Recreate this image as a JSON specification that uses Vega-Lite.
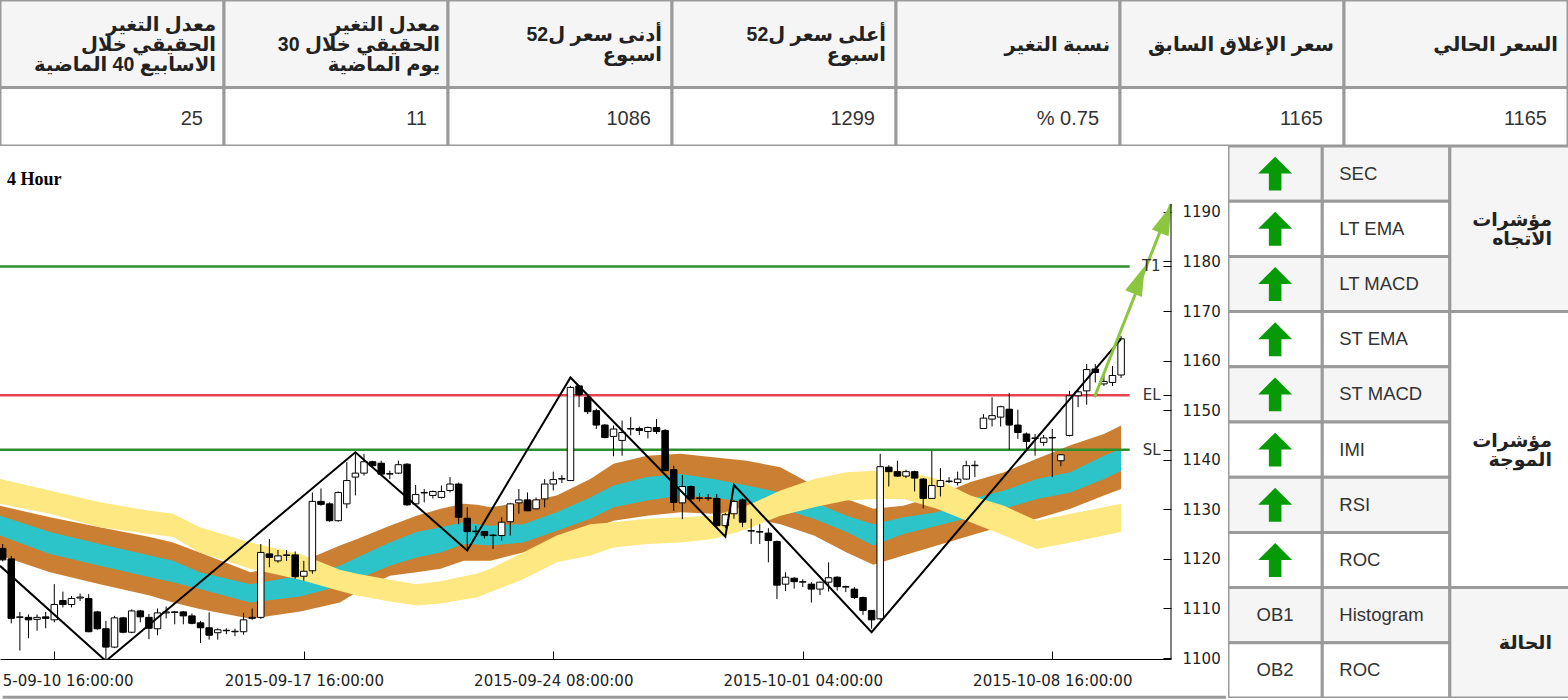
{
  "$schema": "https://vega.github.io/schema/vega-lite/v6.json",
  "padding": 0,
  "background": "white",
  "spacing": 0,
  "config": {"view": {"stroke": null}, "axis": {"grid": false}, "scale": {"continuousPadding": 0}},
  "datasets": {
    "top": [
      {"col": 0, "head": ["معدل التغير", "الحقيقي خلال", "الاسابيع 40 الماضية"], "val": "25"},
      {"col": 1, "head": ["معدل التغير", "الحقيقي خلال 30", "يوم الماضية"], "val": "11"},
      {"col": 2, "head": ["أدنى سعر ل52", "اسبوع"], "val": "1086"},
      {"col": 3, "head": ["أعلى سعر ل52", "اسبوع"], "val": "1299"},
      {"col": 4, "head": ["نسبة التغير"], "val": "% 0.75"},
      {"col": 5, "head": ["سعر الإغلاق السابق"], "val": "1165"},
      {"col": 6, "head": ["السعر الحالي"], "val": "1165"}
    ],
    "cndl": [
      {"i":0,"o":1122.1,"h":1123,"l":1119.5,"c":1119.8},
      {"i":1,"o":1120,"h":1120.6,"l":1107,"c":1108},
      {"i":2,"o":1108.2,"h":1109.3,"l":1101.5,"c":1108.3},
      {"i":3,"o":1108.2,"h":1108.8,"l":1104,"c":1107.7},
      {"i":4,"o":1107.8,"h":1108.8,"l":1105.5,"c":1108.2},
      {"i":5,"o":1108.3,"h":1109.3,"l":1106,"c":1108},
      {"i":6,"o":1107.7,"h":1114.9,"l":1107.2,"c":1110.8},
      {"i":7,"o":1111.6,"h":1113.4,"l":1110.2,"c":1110.8},
      {"i":8,"o":1110.8,"h":1112.5,"l":1110.2,"c":1112},
      {"i":9,"o":1112.1,"h":1113,"l":1111.5,"c":1112.3},
      {"i":10,"o":1112,"h":1112.9,"l":1105.2,"c":1105.3},
      {"i":11,"o":1109.3,"h":1109.5,"l":1105.7,"c":1105.9},
      {"i":12,"o":1105.9,"h":1107.5,"l":1099.5,"c":1102.2},
      {"i":13,"o":1102.2,"h":1108.5,"l":1102,"c":1108.1},
      {"i":14,"o":1108.1,"h":1108.3,"l":1105,"c":1105.2},
      {"i":15,"o":1105.2,"h":1109.8,"l":1105,"c":1109.5},
      {"i":16,"o":1109.5,"h":1109.7,"l":1107.2,"c":1108.3},
      {"i":17,"o":1108.2,"h":1108.9,"l":1103.8,"c":1106},
      {"i":18,"o":1105.9,"h":1110,"l":1104.6,"c":1109.1},
      {"i":19,"o":1109.1,"h":1110.4,"l":1108,"c":1109.3},
      {"i":20,"o":1109.3,"h":1109.5,"l":1106.8,"c":1109.2},
      {"i":21,"o":1109.3,"h":1109.5,"l":1106.8,"c":1108.5},
      {"i":22,"o":1108.5,"h":1109,"l":1106.8,"c":1107},
      {"i":23,"o":1107.1,"h":1107.5,"l":1103,"c":1106.1},
      {"i":24,"o":1106.1,"h":1109.2,"l":1103.7,"c":1104.6},
      {"i":25,"o":1105.1,"h":1106,"l":1103.7,"c":1105.7},
      {"i":26,"o":1105.5,"h":1106,"l":1104.8,"c":1105.6},
      {"i":27,"o":1105.3,"h":1105.9,"l":1104.4,"c":1105.4},
      {"i":28,"o":1105.3,"h":1109.1,"l":1104.7,"c":1107.7},
      {"i":29,"o":1108,"h":1110,"l":1107.7,"c":1108.2},
      {"i":30,"o":1108.2,"h":1123,"l":1107.9,"c":1121.3},
      {"i":31,"o":1121,"h":1124,"l":1118.3,"c":1120.3},
      {"i":32,"o":1119.6,"h":1121.8,"l":1119.2,"c":1120.6},
      {"i":33,"o":1120.7,"h":1121.8,"l":1119.6,"c":1120.8},
      {"i":34,"o":1120.8,"h":1121.5,"l":1116,"c":1116.4},
      {"i":35,"o":1116.5,"h":1119.6,"l":1115.6,"c":1117.5},
      {"i":36,"o":1117.6,"h":1133.4,"l":1117,"c":1131.6},
      {"i":37,"o":1131.6,"h":1134.2,"l":1130.7,"c":1131},
      {"i":38,"o":1131.1,"h":1131.4,"l":1127.5,"c":1127.7},
      {"i":39,"o":1127.7,"h":1133.6,"l":1127.5,"c":1133.4},
      {"i":40,"o":1131.1,"h":1139.5,"l":1130.2,"c":1135.8},
      {"i":41,"o":1136.5,"h":1141.2,"l":1132.8,"c":1137.3},
      {"i":42,"o":1137.3,"h":1141.2,"l":1136.8,"c":1139.6},
      {"i":43,"o":1139.6,"h":1139.8,"l":1138.5,"c":1138.8},
      {"i":44,"o":1139.3,"h":1139.8,"l":1136.9,"c":1137.1},
      {"i":45,"o":1137.1,"h":1137.8,"l":1136.1,"c":1137.2},
      {"i":46,"o":1137.3,"h":1139.8,"l":1137.1,"c":1139},
      {"i":47,"o":1139.1,"h":1139.3,"l":1130.7,"c":1130.9},
      {"i":48,"o":1131.1,"h":1134.9,"l":1130.7,"c":1133},
      {"i":49,"o":1133.3,"h":1134.1,"l":1131.4,"c":1133.4},
      {"i":50,"o":1132.8,"h":1133.8,"l":1132.2,"c":1133.6},
      {"i":51,"o":1132.4,"h":1134.8,"l":1132.2,"c":1133.6},
      {"i":52,"o":1133.8,"h":1136.5,"l":1133.4,"c":1135.1},
      {"i":53,"o":1135.1,"h":1135.4,"l":1127,"c":1128.4},
      {"i":54,"o":1128.2,"h":1130.4,"l":1122,"c":1125.5},
      {"i":55,"o":1125.5,"h":1126.7,"l":1124.7,"c":1125.6},
      {"i":56,"o":1125.5,"h":1125.6,"l":1124.1,"c":1124.7},
      {"i":57,"o":1124.7,"h":1125,"l":1122,"c":1124.8},
      {"i":58,"o":1124.7,"h":1128.4,"l":1123.7,"c":1127.4},
      {"i":59,"o":1127.5,"h":1131.3,"l":1124.7,"c":1131.1},
      {"i":60,"o":1131.3,"h":1134.1,"l":1129.1,"c":1131.9},
      {"i":61,"o":1131.9,"h":1133.4,"l":1129.7,"c":1129.7},
      {"i":62,"o":1130.1,"h":1132.4,"l":1130,"c":1131.9},
      {"i":63,"o":1132.1,"h":1136.1,"l":1130.4,"c":1135.1},
      {"i":64,"o":1135.1,"h":1137.6,"l":1133.8,"c":1136},
      {"i":65,"o":1136.1,"h":1136.9,"l":1135.3,"c":1136.2},
      {"i":66,"o":1135.8,"h":1154.9,"l":1135.8,"c":1154.6},
      {"i":67,"o":1154.9,"h":1155,"l":1150.6,"c":1153.1},
      {"i":68,"o":1152.6,"h":1152.9,"l":1149.2,"c":1149.7},
      {"i":69,"o":1149.9,"h":1150.3,"l":1146.2,"c":1147},
      {"i":70,"o":1147,"h":1147.2,"l":1144.3,"c":1144.5},
      {"i":71,"o":1144.7,"h":1146.9,"l":1140.7,"c":1146.2},
      {"i":72,"o":1143.9,"h":1147.9,"l":1140.8,"c":1145.5},
      {"i":73,"o":1146.2,"h":1148.6,"l":1144.9,"c":1146.3},
      {"i":74,"o":1146.3,"h":1146.7,"l":1145,"c":1145.9},
      {"i":75,"o":1145.7,"h":1146.7,"l":1144.3,"c":1146.5},
      {"i":76,"o":1146.5,"h":1148.2,"l":1145.2,"c":1145.7},
      {"i":77,"o":1145.9,"h":1146.2,"l":1137.8,"c":1137.8},
      {"i":78,"o":1138,"h":1138.8,"l":1129.7,"c":1131.4},
      {"i":79,"o":1131.3,"h":1136.9,"l":1128,"c":1134.6},
      {"i":80,"o":1134.6,"h":1134.8,"l":1131.6,"c":1132.1},
      {"i":81,"o":1132.2,"h":1133.3,"l":1131.6,"c":1132.3},
      {"i":82,"o":1132.2,"h":1133.1,"l":1131.7,"c":1132.3},
      {"i":83,"o":1132.2,"h":1133.1,"l":1126.4,"c":1126.7},
      {"i":84,"o":1126.7,"h":1129.3,"l":1126.2,"c":1128.9},
      {"i":85,"o":1129.1,"h":1131.9,"l":1128.1,"c":1131.6},
      {"i":86,"o":1131.9,"h":1132.2,"l":1126.4,"c":1127.4},
      {"i":87,"o":1125.6,"h":1128.1,"l":1123,"c":1125.7},
      {"i":88,"o":1125.4,"h":1127,"l":1123,"c":1125.5},
      {"i":89,"o":1125.2,"h":1126.2,"l":1119.3,"c":1123.7},
      {"i":90,"o":1123.5,"h":1123.7,"l":1111.9,"c":1114.7},
      {"i":91,"o":1114.9,"h":1117.3,"l":1113.5,"c":1116.3},
      {"i":92,"o":1116.1,"h":1116.3,"l":1114,"c":1115.4},
      {"i":93,"o":1115.3,"h":1115.9,"l":1114.3,"c":1115.4},
      {"i":94,"o":1114.9,"h":1115.3,"l":1111.2,"c":1113.9},
      {"i":95,"o":1113.9,"h":1115.4,"l":1112.7,"c":1115.3},
      {"i":96,"o":1115.3,"h":1119.3,"l":1113.4,"c":1116.2},
      {"i":97,"o":1116.3,"h":1116.5,"l":1113.6,"c":1114.4},
      {"i":98,"o":1114.3,"h":1114.6,"l":1113.3,"c":1114.4},
      {"i":99,"o":1113.9,"h":1114.3,"l":1111.9,"c":1112.2},
      {"i":100,"o":1112.2,"h":1112.4,"l":1108.7,"c":1109.6},
      {"i":101,"o":1109.6,"h":1109.6,"l":1105.9,"c":1107.7},
      {"i":102,"o":1107.9,"h":1141.2,"l":1107.7,"c":1138.6},
      {"i":103,"o":1138.5,"h":1138.9,"l":1134.6,"c":1137.6},
      {"i":104,"o":1137.6,"h":1139.8,"l":1136.5,"c":1136.7},
      {"i":105,"o":1136.7,"h":1138,"l":1136.3,"c":1137.6},
      {"i":106,"o":1137.6,"h":1137.8,"l":1133.6,"c":1136.3},
      {"i":107,"o":1136.1,"h":1136.3,"l":1130.2,"c":1132.2},
      {"i":108,"o":1132.2,"h":1141.8,"l":1132.2,"c":1134.8},
      {"i":109,"o":1134.6,"h":1138.3,"l":1132.6,"c":1135.8},
      {"i":110,"o":1135.6,"h":1136.5,"l":1135.3,"c":1135.7},
      {"i":111,"o":1135.4,"h":1137.6,"l":1134.8,"c":1136.1},
      {"i":112,"o":1136.1,"h":1139.8,"l":1136,"c":1138.8},
      {"i":113,"o":1138.8,"h":1139.8,"l":1136.5,"c":1138.9},
      {"i":114,"o":1146.3,"h":1149.2,"l":1146.2,"c":1148.4},
      {"i":115,"o":1148.2,"h":1152.6,"l":1146.7,"c":1148.9},
      {"i":116,"o":1148.6,"h":1150.9,"l":1146.7,"c":1150.7},
      {"i":117,"o":1150.2,"h":1153.5,"l":1142,"c":1147},
      {"i":118,"o":1147,"h":1150.1,"l":1144.2,"c":1145.5},
      {"i":119,"o":1145.2,"h":1145.5,"l":1142.2,"c":1143.7},
      {"i":120,"o":1144.3,"h":1145.2,"l":1140.8,"c":1144.4},
      {"i":121,"o":1143.5,"h":1145,"l":1142.8,"c":1144.4},
      {"i":122,"o":1144.4,"h":1146.2,"l":1136.5,"c":1144.5},
      {"i":123,"o":1139.8,"h":1141.1,"l":1138.7,"c":1141},
      {"i":124,"o":1144.9,"h":1153.9,"l":1144.7,"c":1152.9},
      {"i":125,"o":1152.9,"h":1154.3,"l":1150.6,"c":1153.7},
      {"i":126,"o":1153.9,"h":1159.3,"l":1151.1,"c":1158.2},
      {"i":127,"o":1158.3,"h":1159.3,"l":1155.6,"c":1157.6},
      {"i":128,"o":1155.3,"h":1157.6,"l":1154.9,"c":1155.8},
      {"i":129,"o":1155.6,"h":1158.9,"l":1154.9,"c":1157},
      {"i":130,"o":1157.1,"h":1165,"l":1156.5,"c":1164.4}
    ],
    "band": [
      {"i":-0.31,"yt":1136.1,"yb":1131.1,"ot":1130.7,"ct":1128.7,"cb":1124.7,"ob":1120.7},
      {"i":5.5,"yt":1133.8,"yb":1129.1,"ot":1128.4,"ct":1125.4,"cb":1121.0,"ob":1117.3},
      {"i":11.3,"yt":1131.4,"yb":1126.4,"ot":1126.4,"ct":1123.0,"cb":1118.6,"ob":1114.9},
      {"i":17.1,"yt":1129.7,"yb":1125.0,"ot":1124.4,"ct":1120.7,"cb":1116.3,"ob":1112.6},
      {"i":19.8,"yt":1129.1,"yb":1124.4,"ot":1123.3,"ct":1119.6,"cb":1115.3,"ob":1111.2},
      {"i":22.9,"yt":1126.4,"yb":1121.3,"ot":1121.3,"ct":1117.3,"cb":1113.9,"ob":1109.9},
      {"i":28.8,"yt":1123.3,"yb":1118.0,"ot":1117.3,"ct":1114.9,"cb":1111.2,"ob":1107.9},
      {"i":34.6,"yt":1121.0,"yb":1115.8,"ot":1119.3,"ct":1116.6,"cb":1112.4,"ob":1109.4},
      {"i":39.2,"yt":1117.8,"yb":1113.5,"ot":1122.7,"ct":1118.6,"cb":1114.6,"ob":1111.2},
      {"i":41.2,"yt":1117.0,"yb":1112.6,"ot":1124.0,"ct":1120.3,"cb":1115.9,"ob":1113.3},
      {"i":45.0,"yt":1115.8,"yb":1111.4,"ot":1126.7,"ct":1123.3,"cb":1118.6,"ob":1116.6},
      {"i":48.1,"yt":1114.9,"yb":1110.6,"ot":1128.7,"ct":1125.4,"cb":1120.3,"ob":1117.3},
      {"i":50.9,"yt":1115.5,"yb":1111.0,"ot":1130.1,"ct":1126.4,"cb":1121.3,"ob":1118.0},
      {"i":53.6,"yt":1116.5,"yb":1111.8,"ot":1131.1,"ct":1127.4,"cb":1123.0,"ob":1119.6},
      {"i":55.1,"yt":1117.0,"yb":1112.2,"ot":1130.9,"ct":1127.0,"cb":1122.9,"ob":1119.6},
      {"i":56.7,"yt":1118.0,"yb":1113.3,"ot":1130.4,"ct":1126.7,"cb":1122.7,"ob":1119.6},
      {"i":60.5,"yt":1121.3,"yb":1115.9,"ot":1131.4,"ct":1127.0,"cb":1123.3,"ob":1121.3},
      {"i":64.4,"yt":1124.7,"yb":1119.3,"ot":1132.8,"ct":1129.4,"cb":1125.7,"ob":1123.3},
      {"i":68.3,"yt":1127.0,"yb":1120.7,"ot":1136.1,"ct":1132.4,"cb":1128.1,"ob":1126.0},
      {"i":71.0,"yt":1127.4,"yb":1122.3,"ot":1139.2,"ct":1134.8,"cb":1130.4,"ob":1127.7},
      {"i":74.9,"yt":1128.1,"yb":1123.0,"ot":1140.8,"ct":1136.5,"cb":1131.8,"ob":1128.7},
      {"i":78.8,"yt":1128.4,"yb":1123.3,"ot":1141.2,"ct":1137.1,"cb":1132.8,"ob":1129.4},
      {"i":82.6,"yt":1128.7,"yb":1124.0,"ot":1140.5,"ct":1136.1,"cb":1132.4,"ob":1129.1},
      {"i":86.5,"yt":1130.7,"yb":1126.0,"ot":1139.8,"ct":1134.8,"cb":1131.4,"ob":1128.4},
      {"i":90.4,"yt":1133.8,"yb":1128.7,"ot":1138.5,"ct":1133.4,"cb":1130.1,"ob":1127.0},
      {"i":94.3,"yt":1136.1,"yb":1130.4,"ot":1134.8,"ct":1131.4,"cb":1128.1,"ob":1124.7},
      {"i":98.1,"yt":1137.5,"yb":1131.8,"ot":1132.1,"ct":1128.7,"cb":1125.4,"ob":1121.3},
      {"i":101.2,"yt":1137.8,"yb":1132.1,"ot":1130.1,"ct":1127.0,"cb":1122.7,"ob":1118.8},
      {"i":104.7,"yt":1137.8,"yb":1132.1,"ot":1130.7,"ct":1128.4,"cb":1125.0,"ob":1120.7},
      {"i":108.6,"yt":1136.1,"yb":1130.1,"ot":1132.8,"ct":1129.4,"cb":1126.7,"ob":1122.7},
      {"i":112.5,"yt":1132.8,"yb":1127.4,"ot":1135.5,"ct":1132.1,"cb":1128.4,"ob":1124.7},
      {"i":116.4,"yt":1130.7,"yb":1124.7,"ot":1137.5,"ct":1133.8,"cb":1130.1,"ob":1126.7},
      {"i":120.2,"yt":1127.7,"yb":1122.0,"ot":1140.2,"ct":1136.1,"cb":1132.1,"ob":1128.1},
      {"i":124.1,"yt":1129.1,"yb":1123.3,"ot":1142.9,"ct":1137.5,"cb":1133.4,"ob":1130.1},
      {"i":128.0,"yt":1130.4,"yb":1124.7,"ot":1145.2,"ct":1140.8,"cb":1136.1,"ob":1132.8},
      {"i":130.0,"yt":1131.1,"yb":1125.4,"ot":1146.9,"ct":1142.2,"cb":1137.8,"ob":1134.1}
    ],
    "zz": [
      {"i":-0.31,"v":1118.6},{"i":12,"v":1099.4},{"i":41,"v":1141.5},{"i":54,"v":1121.7},
      {"i":66,"v":1156.6},{"i":84,"v":1124.5},{"i":85,"v":1134.9},{"i":101,"v":1105.2},{"i":130,"v":1164.4}
    ],
    "lvl": [{"name":"T1","v":1179},{"name":"EL","v":1153},{"name":"SL","v":1142}],
    "arw": [{"i":126.9,"v":1152.6},{"i":135.8,"v":1191.6}],
    "heads": [{"i":132.1,"v":1176.3},{"i":135.2,"v":1188.6}],
    "ttl": [{"t":"4 Hour"}],
    "one": [{"k":1}],
    "rows": [
      {"r":0,"r2":1,"m":0.5,"name":"SEC","sig":"up"},
      {"r":1,"r2":2,"m":1.5,"name":"LT EMA","sig":"up"},
      {"r":2,"r2":3,"m":2.5,"name":"LT MACD","sig":"up"},
      {"r":3,"r2":4,"m":3.5,"name":"ST EMA","sig":"up"},
      {"r":4,"r2":5,"m":4.5,"name":"ST MACD","sig":"up"},
      {"r":5,"r2":6,"m":5.5,"name":"IMI","sig":"up"},
      {"r":6,"r2":7,"m":6.5,"name":"RSI","sig":"up"},
      {"r":7,"r2":8,"m":7.5,"name":"ROC","sig":"up"},
      {"r":8,"r2":9,"m":8.5,"name":"Histogram","sig":"OB1"},
      {"r":9,"r2":10,"m":9.5,"name":"ROC","sig":"OB2"}
    ],
    "grp": [
      {"g0":0,"g1":3,"gm":1.5,"label":["مؤشرات","الاتجاه"]},
      {"g0":3,"g1":8,"gm":5.5,"label":["مؤشرات","الموجة"]},
      {"g0":8,"g1":10,"gm":9,"label":["الحالة"]}
    ]
  },
  "vconcat": [
    {
      "width": 1568,
      "height": 146,
      "data": {"name": "top"},
      "layer": [
        {
          "mark": {"type": "rect", "fill": "#f5f5f5", "stroke": "#9a9a9a", "strokeWidth": 3, "clip": true},
          "encoding": {
            "x": {"field": "col", "type": "ordinal", "sort": null, "scale": {"paddingInner": 0, "paddingOuter": 0}, "axis": null},
            "y": {"datum": 0, "type": "quantitative", "scale": {"domain": [0, 2.5], "reverse": true, "nice": false, "zero": false, "padding": 0}, "axis": null},
            "y2": {"datum": 1.5}
          }
        },
        {
          "mark": {"type": "rect", "fill": "white", "stroke": "#9a9a9a", "strokeWidth": 3, "clip": true},
          "encoding": {
            "x": {"field": "col", "type": "ordinal", "sort": null, "axis": null},
            "y": {"datum": 1.5, "type": "quantitative", "axis": null},
            "y2": {"datum": 2.5}
          }
        },
        {
          "transform": [{"filter": "length(datum.head) == 1"}],
          "mark": {"type": "text", "align": "right", "baseline": "middle", "dx": -10, "font": "Liberation Sans, DejaVu Sans", "fontSize": 19.5, "fontWeight": "bold", "lineHeight": 20, "color": "#222"},
          "encoding": {
            "x": {"field": "col", "type": "ordinal", "sort": null, "bandPosition": 1, "axis": null},
            "y": {"datum": 0.77, "type": "quantitative", "axis": null},
            "text": {"field": "head"}
          }
        },
        {
          "transform": [{"filter": "length(datum.head) == 2"}],
          "mark": {"type": "text", "align": "right", "baseline": "middle", "dx": -10, "dy": -10, "font": "Liberation Sans, DejaVu Sans", "fontSize": 19.5, "fontWeight": "bold", "lineHeight": 20, "color": "#222"},
          "encoding": {
            "x": {"field": "col", "type": "ordinal", "sort": null, "bandPosition": 1, "axis": null},
            "y": {"datum": 0.77, "type": "quantitative", "axis": null},
            "text": {"field": "head"}
          }
        },
        {
          "transform": [{"filter": "length(datum.head) == 3"}],
          "mark": {"type": "text", "align": "right", "baseline": "middle", "dx": -8, "dy": -20, "font": "Liberation Sans, DejaVu Sans", "fontSize": 19.5, "fontWeight": "bold", "lineHeight": 20, "color": "#222"},
          "encoding": {
            "x": {"field": "col", "type": "ordinal", "sort": null, "bandPosition": 1, "axis": null},
            "y": {"datum": 0.77, "type": "quantitative", "axis": null},
            "text": {"field": "head"}
          }
        },
        {
          "mark": {"type": "text", "align": "right", "baseline": "middle", "dx": -21, "font": "Liberation Sans", "fontSize": 20, "color": "#333"},
          "encoding": {
            "x": {"field": "col", "type": "ordinal", "sort": null, "bandPosition": 1, "axis": null},
            "y": {"datum": 2.03, "type": "quantitative", "axis": null},
            "text": {"field": "val"}
          }
        }
      ]
    },
    {
      "spacing": 0,
      "hconcat": [
        {
          "width": 1171,
          "height": 513,
          "layer": [
            {
              "data": {"name": "band"},
              "mark": {"type": "area", "color": "#cb7f32", "clip": true, "opacity": 1},
              "encoding": {
                "x": {"field": "i", "type": "quantitative", "title": null,
                  "scale": {"domain": [-0.31, 135.8], "nice": false, "zero": false, "padding": 0},
                  "axis": {"orient": "bottom", "values": [6, 35, 64, 93, 122],
                    "labelExpr": "datum.value == 6 ? '5-09-10 16:00:00' : datum.value == 35 ? '2015-09-17 16:00:00' : datum.value == 64 ? '2015-09-24 08:00:00' : datum.value == 93 ? '2015-10-01 04:00:00' : '2015-10-08 16:00:00'",
                    "labelAlign": {"condition": {"test": "datum.value == 6", "value": "left"}, "value": "center"},
                    "labelOffset": {"condition": {"test": "datum.value == 6", "value": -52}, "value": 0},
                    "labelFlush": false, "labelOverlap": false, "tickSize": -8, "tickColor": "black", "domainColor": "black",
                    "labelPadding": 22, "labelFont": "DejaVu Sans", "labelFontSize": 15, "labelColor": "#222",
                    "minExtent": 39, "maxExtent": 39}},
                "y": {"field": "ot", "type": "quantitative", "title": null,
                  "scale": {"domain": [1099.8, 1203.3], "nice": false, "zero": false, "padding": 0},
                  "axis": {"orient": "right", "values": [1100, 1110, 1120, 1130, 1140, 1150, 1160, 1170, 1180, 1190, 1142, 1153, 1179],
                    "format": "d", "labelExpr": "datum.value % 10 == 0 ? datum.label : ''",
                    "tickSize": -8, "tickColor": "black", "domain": false, "labelPadding": 19,
                    "labelFont": "DejaVu Sans", "labelFontSize": 15, "labelColor": "#222",
                    "labelOverlap": false, "minExtent": 55, "maxExtent": 55}},
                "y2": {"field": "ob"}
              }
            },
            {
              "data": {"name": "band"},
              "mark": {"type": "area", "color": "#2cc4c9", "clip": true, "opacity": 1},
              "encoding": {
                "x": {"field": "i", "type": "quantitative", "title": null},
                "y": {"field": "ct", "type": "quantitative", "title": null},
                "y2": {"field": "cb"}
              }
            },
            {
              "data": {"name": "band"},
              "mark": {"type": "area", "color": "#fde882", "clip": true, "opacity": 1},
              "encoding": {
                "x": {"field": "i", "type": "quantitative", "title": null},
                "y": {"field": "yt", "type": "quantitative", "title": null},
                "y2": {"field": "yb"}
              }
            },
            {
              "data": {"name": "lvl"},
              "mark": {"type": "rule", "strokeWidth": 2.5, "clip": true},
              "encoding": {
                "x": {"datum": -0.31, "type": "quantitative", "title": null},
                "x2": {"datum": 131},
                "y": {"field": "v", "type": "quantitative", "title": null},
                "color": {"condition": {"test": "datum.name == 'EL'", "value": "#e8434c"}, "value": "#2e8f2e"}
              }
            },
            {
              "data": {"name": "cndl"},
              "mark": {"type": "rule", "color": "black", "strokeWidth": 1, "clip": true},
              "encoding": {
                "x": {"field": "i", "type": "quantitative", "title": null},
                "y": {"field": "l", "type": "quantitative", "title": null},
                "y2": {"field": "h"}
              }
            },
            {
              "data": {"name": "cndl"},
              "mark": {"type": "bar", "size": 6.5, "orient": "vertical", "stroke": "black", "strokeWidth": 1, "clip": true},
              "encoding": {
                "x": {"field": "i", "type": "quantitative", "title": null},
                "y": {"field": "o", "type": "quantitative", "title": null},
                "y2": {"field": "c"},
                "fill": {"condition": {"test": "datum.c < datum.o", "value": "black"}, "value": "white"}
              }
            },
            {
              "data": {"name": "zz"},
              "mark": {"type": "line", "color": "black", "strokeWidth": 2, "clip": true},
              "encoding": {
                "x": {"field": "i", "type": "quantitative", "title": null},
                "y": {"field": "v", "type": "quantitative", "title": null}
              }
            },
            {
              "data": {"name": "arw"},
              "mark": {"type": "line", "color": "#8cc63f", "strokeWidth": 3},
              "encoding": {
                "x": {"field": "i", "type": "quantitative", "title": null},
                "y": {"field": "v", "type": "quantitative", "title": null}
              }
            },
            {
              "data": {"name": "heads"},
              "mark": {"type": "point", "shape": "M0,-1L0.6,1L-0.6,1Z", "filled": true, "color": "#8cc63f", "opacity": 1, "size": 900, "angle": 22},
              "encoding": {
                "x": {"field": "i", "type": "quantitative", "title": null},
                "y": {"field": "v", "type": "quantitative", "title": null}
              }
            },
            {
              "data": {"name": "lvl"},
              "mark": {"type": "text", "align": "right", "baseline": "middle", "font": "DejaVu Sans", "fontSize": 15, "color": "#333"},
              "encoding": {
                "x": {"datum": 134.6, "type": "quantitative", "title": null},
                "y": {"field": "v", "type": "quantitative", "title": null},
                "text": {"field": "name"}
              }
            },
            {
              "data": {"name": "ttl"},
              "mark": {"type": "text", "align": "left", "baseline": "middle", "font": "Liberation Serif", "fontWeight": "bold", "fontSize": 18, "color": "black"},
              "encoding": {
                "x": {"datum": 0.5, "type": "quantitative", "title": null},
                "y": {"datum": 1196.4, "type": "quantitative", "title": null},
                "text": {"field": "t"}
              }
            },
            {
              "data": {"name": "one"},
              "mark": {"type": "rule", "color": "black", "strokeWidth": 1},
              "encoding": {
                "x": {"datum": 135.8, "type": "quantitative", "title": null},
                "y": {"datum": 1099.8, "type": "quantitative", "title": null},
                "y2": {"datum": 1191.6}
              }
            },
            {
              "data": {"name": "one"},
              "mark": {"type": "rule", "color": "#9a9a9a", "strokeWidth": 3},
              "encoding": {
                "x": {"datum": 0, "type": "quantitative", "title": null},
                "x2": {"datum": 142.2},
                "y": {"datum": 1092.1, "type": "quantitative", "title": null}
              }
            }
          ]
        },
        {
          "width": 342,
          "height": 552,
          "layer": [
            {
              "data": {"name": "rows"},
              "mark": {"type": "rect", "stroke": "#9a9a9a", "strokeWidth": 3, "clip": true},
              "encoding": {
                "x": {"datum": 0, "type": "quantitative", "scale": {"domain": [0, 3.7], "nice": false, "zero": false, "padding": 0}, "axis": null},
                "x2": {"datum": 1.02},
                "y": {"field": "r", "type": "quantitative", "scale": {"domain": [0, 10], "reverse": true, "nice": false, "zero": false, "padding": 0}, "axis": null},
                "y2": {"field": "r2"},
                "fill": {"condition": {"test": "datum.r % 2 == 0", "value": "#f5f5f5"}, "value": "white"}
              }
            },
            {
              "data": {"name": "rows"},
              "mark": {"type": "rect", "stroke": "#9a9a9a", "strokeWidth": 3, "clip": true},
              "encoding": {
                "x": {"datum": 1.02, "type": "quantitative", "axis": null},
                "x2": {"datum": 2.4},
                "y": {"field": "r", "type": "quantitative", "axis": null},
                "y2": {"field": "r2"},
                "fill": {"condition": {"test": "datum.r % 2 == 0", "value": "#f5f5f5"}, "value": "white"}
              }
            },
            {
              "data": {"name": "grp"},
              "mark": {"type": "rect", "stroke": "#9a9a9a", "strokeWidth": 3, "clip": true},
              "encoding": {
                "x": {"datum": 2.4, "type": "quantitative", "axis": null},
                "x2": {"datum": 3.7},
                "y": {"field": "g0", "type": "quantitative", "axis": null},
                "y2": {"field": "g1"},
                "fill": {"condition": {"test": "datum.g0 == 3", "value": "white"}, "value": "#f5f5f5"}
              }
            },
            {
              "data": {"name": "rows"},
              "mark": {"type": "text", "align": "left", "baseline": "middle", "dx": 17, "font": "Liberation Sans", "fontSize": 18.5, "color": "#333"},
              "encoding": {
                "x": {"datum": 1.02, "type": "quantitative", "axis": null},
                "y": {"field": "m", "type": "quantitative", "axis": null},
                "text": {"field": "name"}
              }
            },
            {
              "data": {"name": "rows"},
              "transform": [{"filter": "datum.sig == 'up'"}],
              "mark": {"type": "point", "shape": "M0,-1L1,0L0.37,0L0.37,1L-0.37,1L-0.37,0L-1,0Z", "filled": true, "color": "#069b06", "opacity": 1, "size": 1150},
              "encoding": {
                "x": {"datum": 0.51, "type": "quantitative", "axis": null},
                "y": {"field": "m", "type": "quantitative", "axis": null}
              }
            },
            {
              "data": {"name": "rows"},
              "transform": [{"filter": "datum.sig != 'up'"}],
              "mark": {"type": "text", "align": "center", "baseline": "middle", "font": "Liberation Sans", "fontSize": 18.5, "color": "#333"},
              "encoding": {
                "x": {"datum": 0.51, "type": "quantitative", "axis": null},
                "y": {"field": "m", "type": "quantitative", "axis": null},
                "text": {"field": "sig"}
              }
            },
            {
              "data": {"name": "grp"},
              "transform": [{"filter": "length(datum.label) == 2"}],
              "mark": {"type": "text", "align": "right", "baseline": "middle", "dx": -18, "dy": -9, "font": "DejaVu Sans", "fontWeight": "bold", "fontSize": 19, "lineHeight": 19, "color": "#222"},
              "encoding": {
                "x": {"datum": 3.7, "type": "quantitative", "axis": null},
                "y": {"field": "gm", "type": "quantitative", "axis": null},
                "text": {"field": "label"}
              }
            },
            {
              "data": {"name": "grp"},
              "transform": [{"filter": "length(datum.label) == 1"}],
              "mark": {"type": "text", "align": "right", "baseline": "middle", "dx": -18, "font": "DejaVu Sans", "fontWeight": "bold", "fontSize": 19, "color": "#222"},
              "encoding": {
                "x": {"datum": 3.7, "type": "quantitative", "axis": null},
                "y": {"field": "gm", "type": "quantitative", "axis": null},
                "text": {"field": "label"}
              }
            }
          ]
        }
      ]
    }
  ]
}
